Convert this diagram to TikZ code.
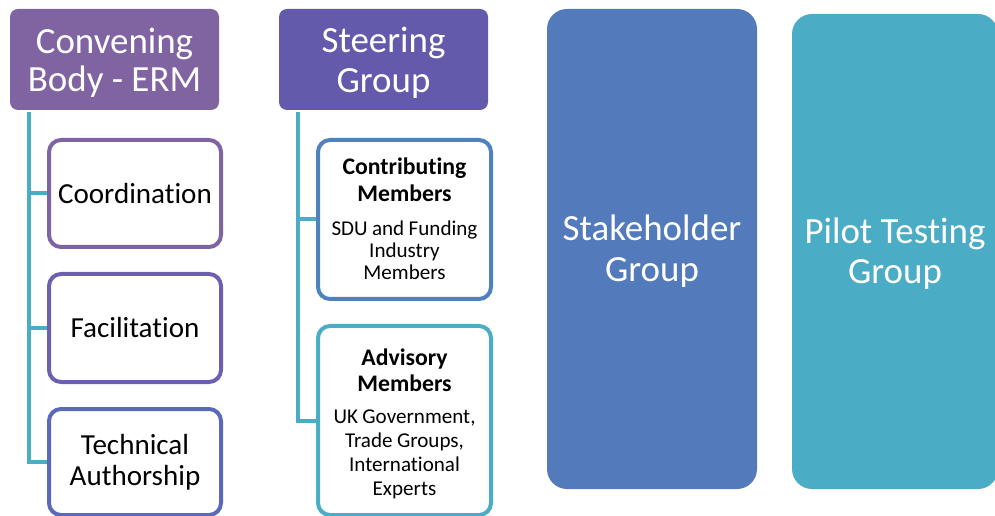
\documentclass[tikz,border=0pt]{standalone}
\usepackage{fontspec}
\setmainfont{Carlito}[RawFeature={-liga;-clig;-calt;-dlig}]
\definecolor{cpurple}{HTML}{8064A2}
\definecolor{cviolet}{HTML}{635AAB}
\definecolor{cfac}{HTML}{6E5FAE}
\definecolor{ctech}{HTML}{5A69B8}
\definecolor{cblue}{HTML}{4F81BD}
\definecolor{cstake}{HTML}{537BBC}
\definecolor{cteal}{HTML}{4BACC6}
\begin{document}
\begin{tikzpicture}[x=0.75pt,y=-0.75pt,
  headbox/.style={rounded corners=6pt, inner sep=0pt},
  headtext/.style={text=white, align=center, inner sep=0pt},
  subbox/.style={draw, line width=3pt, rounded corners=9pt, fill=white, align=center, inner sep=0pt},
  membox/.style={draw, line width=3pt, rounded corners=9pt, fill=white, inner sep=0pt},
  memtext/.style={text width=165*0.75pt, align=center, inner sep=0pt},
  bigbox/.style={rounded corners=15pt, inner sep=0pt},
  link/.style={draw=cteal, line width=3pt}]
\useasboundingbox (0,0) rectangle (995,516);

% column 1
\node[headbox, fill=cpurple, minimum width=209*0.75pt, minimum height=101*0.75pt] (conv) at (114.5,59.5) {};
\node[headtext, font=\fontsize{27.7}{29}\selectfont] (convtext) at ([yshift=-2.5pt]conv.center) {Convening\\Body - ERM};
\node[subbox, draw=cpurple, minimum width=172*0.75pt, minimum height=107*0.75pt,
  font=\fontsize{21.8}{23}\selectfont] (coord) at (135,193.5) {Coordination};
\node[subbox, draw=cfac, minimum width=172*0.75pt, minimum height=108*0.75pt,
  font=\fontsize{21.8}{23}\selectfont] (facil) at (135,328) {Facilitation};
\node[subbox, draw=ctech, minimum width=172*0.75pt, minimum height=106*0.75pt,
  font=\fontsize{21.8}{23.5}\selectfont] (tech) at (135,462) {Technical\\Authorship};
\coordinate (c1) at (29,112);
\draw[link] (c1) |- (tech.west);
\draw[link] (c1 |- coord.west) -- (coord.west);
\draw[link] (c1 |- facil.west) -- (facil.west);

% column 2
\node[headbox, fill=cviolet, minimum width=209*0.75pt, minimum height=101*0.75pt] (steer) at (383.5,59.5) {};
\node[headtext, font=\fontsize{27.7}{29.5}\selectfont] (steertext) at ([yshift=-2.5pt]steer.center) {Steering\\Group};
\node[membox, draw=cblue, minimum width=173*0.75pt, minimum height=159*0.75pt] (contrib) at (404.5,219.5) {};
\node[memtext] (contribtext) at ([yshift=0.5pt]contrib.center)
  {{\fontsize{17.8}{20}\selectfont\bfseries Contributing\\Members\par}\vspace{9pt}%
   {\fontsize{15.8}{16.5}\selectfont SDU and Funding\\Industry\\Members\par}};
\node[membox, draw=cteal, minimum width=173*0.75pt, minimum height=189*0.75pt] (advis) at (404.5,420.5) {};
\node[memtext] (advistext) at ([yshift=-2.5pt]advis.center)
  {{\fontsize{17.8}{19.5}\selectfont\bfseries Advisory\\Members\par}\vspace{6pt}%
   {\fontsize{15.8}{18}\selectfont UK Government,\\Trade Groups,\\International\\Experts\par}};
\coordinate (c2) at (298,112);
\draw[link] (c2) |- (advis.west);
\draw[link] (c2 |- contrib.west) -- (contrib.west);

% column 3 and 4
\node[bigbox, fill=cstake, minimum width=210*0.75pt, minimum height=480*0.75pt] (stake) at (652,249) {};
\node[headtext, font=\fontsize{27.7}{30.5}\selectfont] (staketext) at ([yshift=-1.5pt]stake.center) {Stakeholder\\Group};
\node[bigbox, fill=cteal, minimum width=206*0.75pt, minimum height=475*0.75pt] (pilot) at (895,251.5) {};
\node[headtext, font=\fontsize{27.7}{30.5}\selectfont] (pilottext) at ([yshift=-1.5pt]pilot.center) {Pilot Testing\\Group};
\end{tikzpicture}
\end{document}
